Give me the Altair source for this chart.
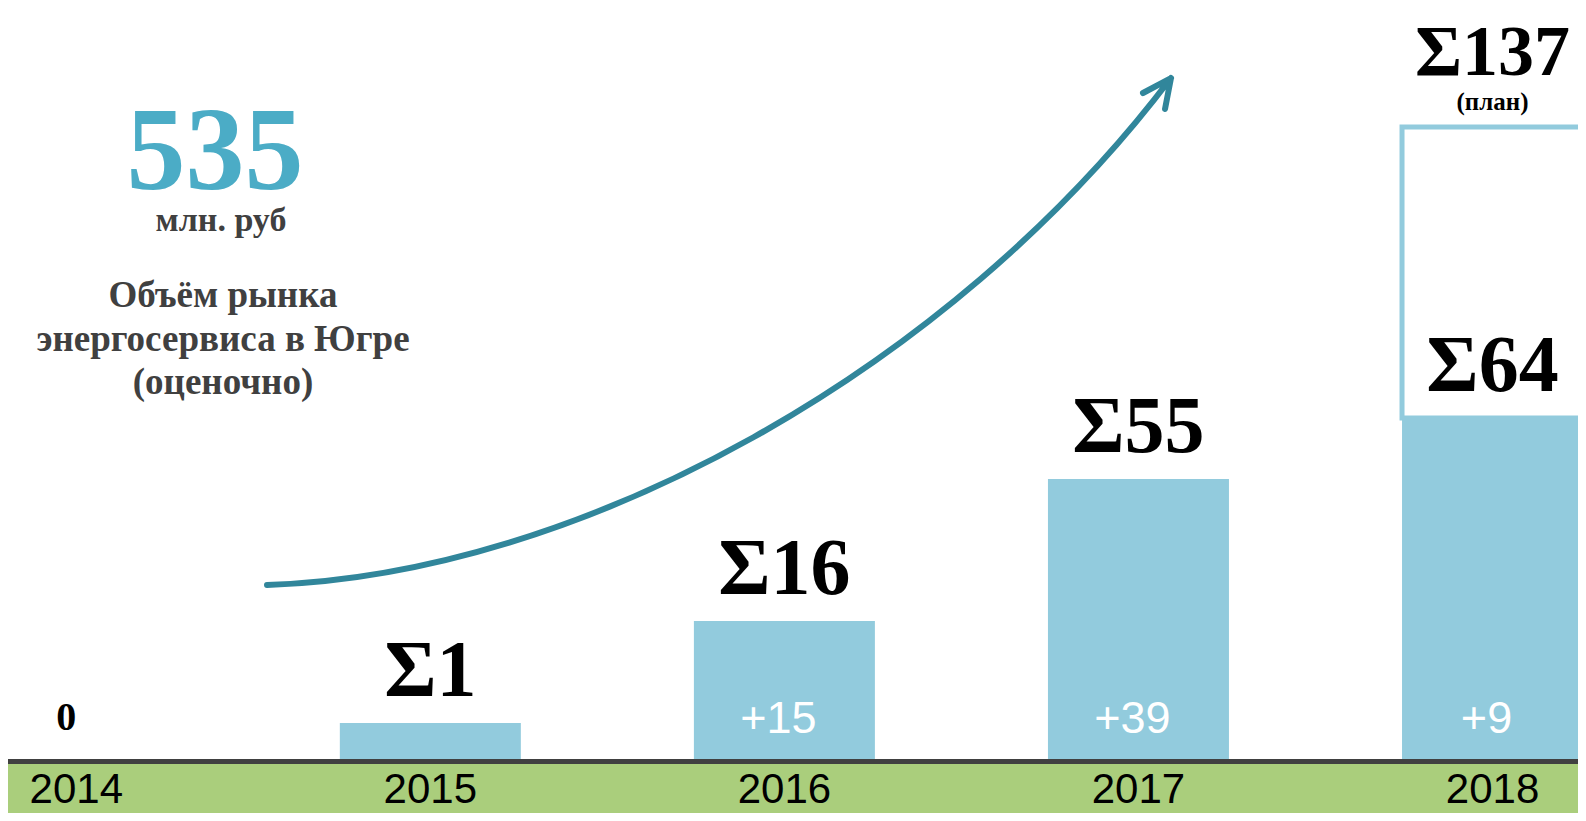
import altair as alt
import pandas as pd

# ---------------- data ----------------
years = [2014, 2015, 2016, 2017, 2018]
year_labels = ["2014", "2015", "2016", "2017", "2018"]
totals = [0, 1, 16, 55, 64]
increments = [None, None, 15, 39, 9]
plan_year = [2018]
plan_total = [137]
plan_note = ["(план)"]
headline_value = ["535"]
headline_unit = ["млн. руб"]
caption_lines = ["Объём рынка", "энергосервиса в Югре", "(оценочно)"]

# ---------------- layout / style ----------------
W, H = 1570, 805
BAR_COLOR = "#92CBDD"
GREEN = "#AACE7C"
ARROW = "#31869B"
HEAD = "#4BACC6"
GREY = "#404040"
SERIF = "Liberation Serif"
SANS = "Liberation Sans"

df = pd.DataFrame({"year": years, "label": year_labels, "total": totals})
df["sigma"] = ["Σ" + str(t) for t in totals]
bars_df = df[df["total"] > 0]
zero_df = df[df["total"] == 0]
inc_df = pd.DataFrame({
    "year": [y for y, v in zip(years, increments) if v is not None],
    "inc": ["+" + str(v) for v in increments if v is not None],
})
plan_df = pd.DataFrame({
    "year": plan_year,
    "plan": plan_total,
    "actual": [totals[-1]],
    "sigma": ["Σ" + str(p) for p in plan_total],
    "note": plan_note,
})
one = pd.DataFrame({"k": [0]})

x_scale = alt.Scale(domain=[2013.8213, 2018.2273], nice=False, zero=False)
# the original infographic is not drawn to a linear scale: piecewise scale
y_scale = alt.Scale(domain=[0, 1, 16, 55, 64, 137],
                    range=[751, 715, 613, 471, 410, 119],
                    nice=False, zero=False)

X = alt.X("year:Q", scale=x_scale, axis=None)

band = alt.Chart(one).mark_rect(color=GREEN).encode(
    x=alt.value(0), x2=alt.value(W), y=alt.value(756), y2=alt.value(H))
base_rule = alt.Chart(one).mark_rule(color=GREY, strokeWidth=5).encode(
    x=alt.value(0), x2=alt.value(W), y=alt.value(753.5))

plan_bar = alt.Chart(plan_df).mark_bar(
    fill="white", stroke=BAR_COLOR, strokeWidth=5, size=181, orient="vertical"
).encode(x=X, y=alt.Y("plan:Q", scale=y_scale, axis=None), y2="actual:Q")

bars = alt.Chart(bars_df).mark_bar(color=BAR_COLOR, size=181, orient="vertical").encode(
    x=X, y=alt.Y("total:Q", scale=y_scale, axis=None))

sigma_txt = alt.Chart(bars_df).mark_text(
    font=SERIF, fontWeight="bold", fontSize=80, color="black",
    baseline="alphabetic", align="center", dy=-27
).encode(x=X, y=alt.Y("total:Q", scale=y_scale, axis=None), text="sigma:N")

zero_txt = alt.Chart(zero_df).mark_text(
    font=SERIF, fontWeight="bold", fontSize=40, color="black",
    baseline="alphabetic", align="center", dy=-29, dx=-10
).encode(x=X, y=alt.Y("total:Q", scale=y_scale, axis=None), text="total:N")

plan_sigma = alt.Chart(plan_df).mark_text(
    font=SERIF, fontWeight="bold", fontSize=72, color="black",
    baseline="alphabetic", align="center", dy=-52
).encode(x=X, y=alt.Y("plan:Q", scale=y_scale, axis=None), text="sigma:N")

plan_note_txt = alt.Chart(plan_df).mark_text(
    font=SERIF, fontWeight="bold", fontSize=25, color="black",
    baseline="alphabetic", align="center", dy=-17
).encode(x=X, y=alt.Y("plan:Q", scale=y_scale, axis=None), text="note:N")

inc_txt = alt.Chart(inc_df).mark_text(
    font=SANS, fontSize=45, color="white", baseline="alphabetic", align="center", dx=-6
).encode(x=X, y=alt.value(725), text="inc:N")

year_txt = alt.Chart(df).mark_text(
    font=SANS, fontSize=42, color="black", baseline="alphabetic", align="center"
).encode(x=X, y=alt.value(795), text="label:N")

arrow_path = ("M -0.9826 0.5478 C -0.3022 0.5261 0.5022 0.0804 0.9826 -0.5543 "
              "M 0.9217 -0.5217 L 0.9826 -0.5543 L 0.9696 -0.4870")
arrow = alt.Chart(one).mark_point(
    shape=arrow_path, size=920 * 920, filled=False, stroke=ARROW,
    strokeWidth=6, opacity=1, strokeCap="round", strokeJoin="round"
).encode(x=alt.value(711), y=alt.value(325))

head_txt = alt.Chart(pd.DataFrame({"t": headline_value})).mark_text(
    font=SERIF, fontWeight="bold", fontSize=118, color=HEAD,
    baseline="alphabetic", align="center"
).encode(x=alt.value(207), y=alt.value(181), text="t:N")

unit_txt = alt.Chart(pd.DataFrame({"t": headline_unit})).mark_text(
    font=SERIF, fontWeight="bold", fontSize=34, color=GREY,
    baseline="alphabetic", align="center"
).encode(x=alt.value(213), y=alt.value(223), text="t:N")

cap_df = pd.DataFrame({"t": caption_lines, "i": list(range(len(caption_lines)))})
cap_txt = alt.Chart(cap_df).mark_text(
    font=SERIF, fontWeight="bold", fontSize=37, color=GREY,
    baseline="alphabetic", align="center"
).encode(
    x=alt.value(215),
    y=alt.Y("i:Q", scale=alt.Scale(domain=[0, 2], range=[299, 386], nice=False, zero=False), axis=None),
    text="t:N")

chart = alt.layer(
    band, base_rule, plan_bar, bars, sigma_txt, zero_txt, plan_sigma, plan_note_txt,
    inc_txt, year_txt, arrow, head_txt, unit_txt, cap_txt
).resolve_scale(y="independent").properties(
    width=W, height=H, padding=0, autosize=alt.AutoSizeParams(type="none"),
    background="white"
).configure_view(stroke=None)

chart.save("out.html", embed_options={"renderer": "svg", "actions": False})
